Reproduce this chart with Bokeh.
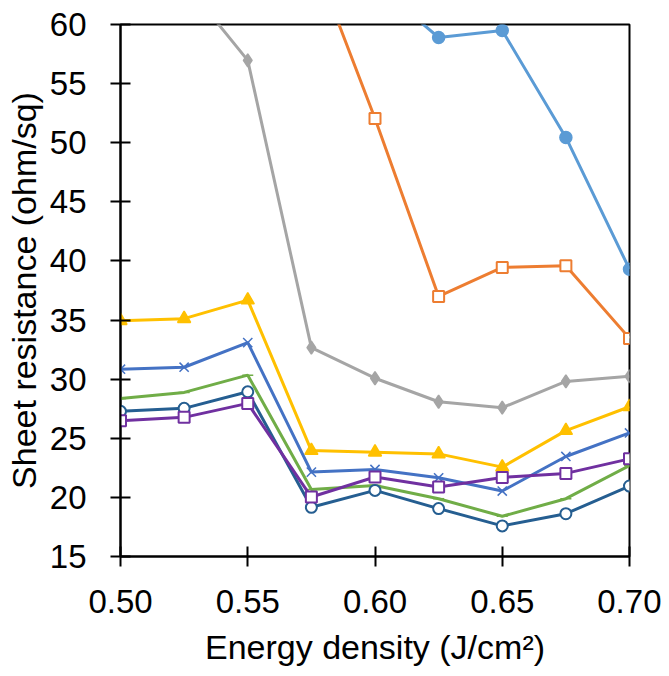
from bokeh.plotting import figure
from bokeh.models import Range1d, FixedTicker, NumeralTickFormatter
from bokeh.embed import file_html
from bokeh.resources import INLINE

energy = [0.500, 0.525, 0.550, 0.575, 0.600, 0.625, 0.650, 0.675, 0.700]

s_lightblue = [95.0, 88.0, 80.0, 70.0, 63.5, 58.9, 59.5, 50.45, 39.3]
s_orange = [85.0, 80.0, 74.0, 66.1, 52.05, 37.0, 39.45, 39.6, 33.45]
s_gray = [66.0, 63.6, 56.97, 32.67, 30.08, 28.09, 27.59, 29.81, 30.25]
s_yellow = [34.95, 35.12, 36.69, 23.96, 23.82, 23.68, 22.56, 25.65, 27.67]
s_blue = [30.84, 31.01, 33.09, 22.14, 22.36, 21.66, 20.54, 23.46, 25.45]
s_green = [28.37, 28.88, 30.34, 20.67, 21.01, 19.89, 18.40, 19.89, 22.70]
s_darkblue = [27.28, 27.53, 28.93, 19.16, 20.59, 19.05, 17.59, 18.62, 20.96]
s_purple = [26.49, 26.77, 27.95, 20.03, 21.72, 20.88, 21.69, 22.03, 23.26]

x_ticks = [0.50, 0.55, 0.60, 0.65, 0.70]
y_ticks = [15, 20, 25, 30, 35, 40, 45, 50, 55, 60]

FONT = "Liberation Sans"

p = figure(width=661, height=668, output_backend="svg", toolbar_location=None,
           x_range=Range1d(0.5, 0.7), y_range=Range1d(15, 60),
           min_border_left=120, min_border_right=32, min_border_top=24,
           min_border_bottom=110)
p.xgrid.visible = False
p.ygrid.visible = False
p.outline_line_color = "#000000"
p.outline_line_width = 2
p.background_fill_color = "white"
p.border_fill_color = "white"

p.xaxis.ticker = FixedTicker(ticks=x_ticks)
p.yaxis.ticker = FixedTicker(ticks=y_ticks)
p.xaxis.formatter = NumeralTickFormatter(format="0.00")
p.xaxis.axis_label = "Energy density (J/cm²)"
p.yaxis.axis_label = "Sheet resistance (ohm/sq)"
for ax in (p.xaxis, p.yaxis):
    ax.axis_line_color = "#000000"
    ax.axis_line_width = 2
    ax.major_tick_line_color = "#000000"
    ax.major_tick_line_width = 2
    ax.major_tick_in = 10
    ax.major_tick_out = 10
    ax.minor_tick_line_color = None
    ax.major_label_text_font = FONT
    ax.major_label_text_font_size = "33px"
    ax.major_label_text_color = "#000000"
    ax.axis_label_text_font = FONT
    ax.axis_label_text_font_size = "34px"
    ax.axis_label_text_font_style = "normal"
    ax.axis_label_text_color = "#000000"
p.yaxis.major_label_standoff = 24
p.xaxis.major_label_standoff = 23
p.yaxis.axis_label_standoff = 4
p.xaxis.axis_label_standoff = 12

LW = 3

def series(y, color, marker, size, fill):
    p.line(energy, y, line_color=color, line_width=LW)
    p.scatter(energy, y, marker=marker, size=size, line_color=color,
              fill_color=fill, line_width=2 if fill == "white" else 1.5)

series(s_lightblue, "#5B9BD5", "circle", 12, "#5B9BD5")
series(s_orange, "#ED7D31", "square", 11, "white")
series(s_gray, "#A5A5A5", "diamond", 13, "#A5A5A5")
series(s_yellow, "#FFC000", "triangle", 13, "#FFC000")
series(s_blue, "#4472C4", "x", 13, "#4472C4")
series(s_green, "#70AD47", "dash", 11, "#70AD47")
series(s_darkblue, "#255E91", "circle", 11, "white")
series(s_purple, "#7030A0", "square", 11, "white")

open("out.html", "w").write(file_html(p, INLINE))
